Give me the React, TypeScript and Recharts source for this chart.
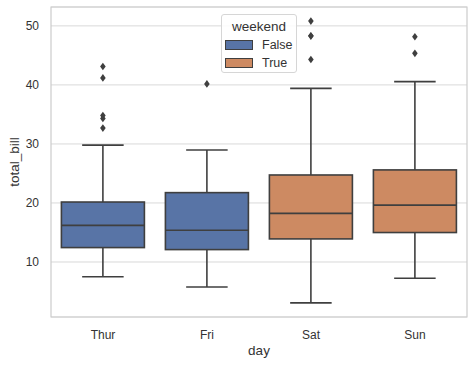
import React from 'react';
import {
	ComposedChart,
	Bar,
	Cell,
	XAxis,
	YAxis,
	CartesianGrid,
	ReferenceArea,
} from 'recharts';

// Box stats per day
const days = ['Thur', 'Fri', 'Sat', 'Sun'];
const weekend = [false, false, true, true];
const q1 = [12.44, 12.1, 13.91, 14.99];
const median = [16.2, 15.38, 18.24, 19.63];
const q3 = [20.16, 21.75, 24.74, 25.6];
const whiskerLow = [7.51, 5.75, 3.07, 7.25];
const whiskerHigh = [29.8, 28.97, 39.42, 40.55];
const outliers = [
	[32.68, 34.3, 34.83, 41.19, 43.11],
	[40.17],
	[44.3, 48.27, 48.33, 50.81],
	[45.35, 48.17],
];

const yTicks = [10, 20, 30, 40, 50];
const yDomain = [0.68, 53.2];

const hueLevels = ['False', 'True'];
const hueColors = ['#5874a6', '#cd8a62'];

const edge = '#3f3f3f';
const textColor = '#333333';
const font = '"Liberation Sans", Arial, sans-serif';

type BoxRow = {
	day: string;
	color: string;
	q1: number;
	median: number;
	q3: number;
	low: number;
	high: number;
	fliers: number[];
};

const rows: BoxRow[] = days.map((day, i) => ({
	day,
	color: hueColors[weekend[i] ? 1 : 0],
	q1: q1[i],
	median: median[i],
	q3: q3[i],
	low: whiskerLow[i],
	high: whiskerHigh[i],
	fliers: outliers[i],
}));

// draws the whole box + whiskers + fliers, using the bar's own q1..q3 pixels as the scale
const BoxShape = (props: any) => {
	const { x, y, width, height, payload } = props;
	const d: BoxRow = payload;
	const top = Math.min(y, y + height);
	const bottom = Math.max(y, y + height);
	const perUnit = (bottom - top) / (d.q3 - d.q1);
	const py = (v: number) => top + (d.q3 - v) * perUnit;
	const cx = x + width / 2;
	const cap = width / 4;
	return (
		<g>
			<line x1={cx} x2={cx} y1={py(d.high)} y2={top} stroke={edge} strokeWidth={1.6} />
			<line x1={cx} x2={cx} y1={bottom} y2={py(d.low)} stroke={edge} strokeWidth={1.6} />
			<line x1={cx - cap} x2={cx + cap} y1={py(d.high)} y2={py(d.high)} stroke={edge} strokeWidth={1.6} />
			<line x1={cx - cap} x2={cx + cap} y1={py(d.low)} y2={py(d.low)} stroke={edge} strokeWidth={1.6} />
			<rect x={x} y={top} width={width} height={bottom - top} fill={d.color} stroke={edge} strokeWidth={1.6} />
			<line x1={x} x2={x + width} y1={py(d.median)} y2={py(d.median)} stroke={edge} strokeWidth={1.6} />
			{d.fliers.map((v, k) => {
				const fy = py(v);
				return (
					<path
						key={k}
						d={`M${cx},${fy - 3.8} L${cx + 2.8},${fy} L${cx},${fy + 3.8} L${cx - 2.8},${fy} Z`}
						fill={edge}
					/>
				);
			})}
		</g>
	);
};

const HueLegend = () => (
	<div
		style={{
			position: 'absolute',
			left: 221,
			top: 14,
			width: 74,
			height: 57,
			border: '1px solid #d6d6d6',
			borderRadius: 3,
			background: 'rgba(255,255,255,0.85)',
			fontFamily: font,
			color: textColor,
		}}>
		<div style={{ position: 'absolute', top: 4, left: 0, width: 74, textAlign: 'center', fontSize: 13.5 }}>
			weekend
		</div>
		{hueLevels.map((lvl, i) => (
			<div
				key={lvl}
				style={{ position: 'absolute', left: 3, top: 24 + i * 18, height: 12, display: 'flex', alignItems: 'center' }}>
				<span
					style={{
						display: 'inline-block',
						width: 26,
						height: 8,
						background: hueColors[i],
						border: `1px solid ${edge}`,
						marginRight: 9,
					}}
				/>
				<span style={{ fontSize: 12.5 }}>{lvl}</span>
			</div>
		))}
	</div>
);

const App = () => {
	return (
		<div style={{ position: 'absolute', left: 0, top: 0, width: 474, height: 365, background: '#fff' }}>
			<ComposedChart
				width={474}
				height={365}
				data={rows}
				barCategoryGap='10%'
				margin={{ top: 7, right: 7, left: 0, bottom: 0 }}>
				<CartesianGrid vertical={false} stroke='#d9d9d9' strokeWidth={1} />
				<ReferenceArea y1={yDomain[0]} y2={yDomain[1]} fill='none' stroke='#cccccc' strokeWidth={1.2} />
				<XAxis
					dataKey='day'
					height={48}
					tickLine={false}
					axisLine={false}
					tickMargin={7}
					tick={{ fill: textColor, fontSize: 12, fontFamily: font }}
					label={{
						value: 'day',
						position: 'insideBottom',
						offset: 10,
						fill: textColor,
						fontSize: 13.5,
						fontFamily: font,
					}}
				/>
				<YAxis
					width={51}
					domain={yDomain}
					ticks={yTicks}
					type='number'
					allowDataOverflow
					tickLine={false}
					axisLine={false}
					tickMargin={6}
					tick={{ fill: textColor, fontSize: 12, fontFamily: font }}
					label={({ viewBox }: any) => (
						<text
							x={viewBox.x + 14}
							y={viewBox.y + viewBox.height / 2}
							transform={`rotate(-90, ${viewBox.x + 14}, ${viewBox.y + viewBox.height / 2})`}
							textAnchor='middle'
							dominantBaseline='central'
							fill={textColor}
							fontSize={13.5}
							fontFamily={font}>
							total_bill
						</text>
					)}
				/>
				<Bar
					dataKey={(d: BoxRow) => [d.q1, d.q3]}
					shape={<BoxShape />}
					isAnimationActive={false}>
					{rows.map((r) => (
						<Cell key={r.day} fill={r.color} />
					))}
				</Bar>
			</ComposedChart>
			<HueLegend />
		</div>
	);
};

export default App;
